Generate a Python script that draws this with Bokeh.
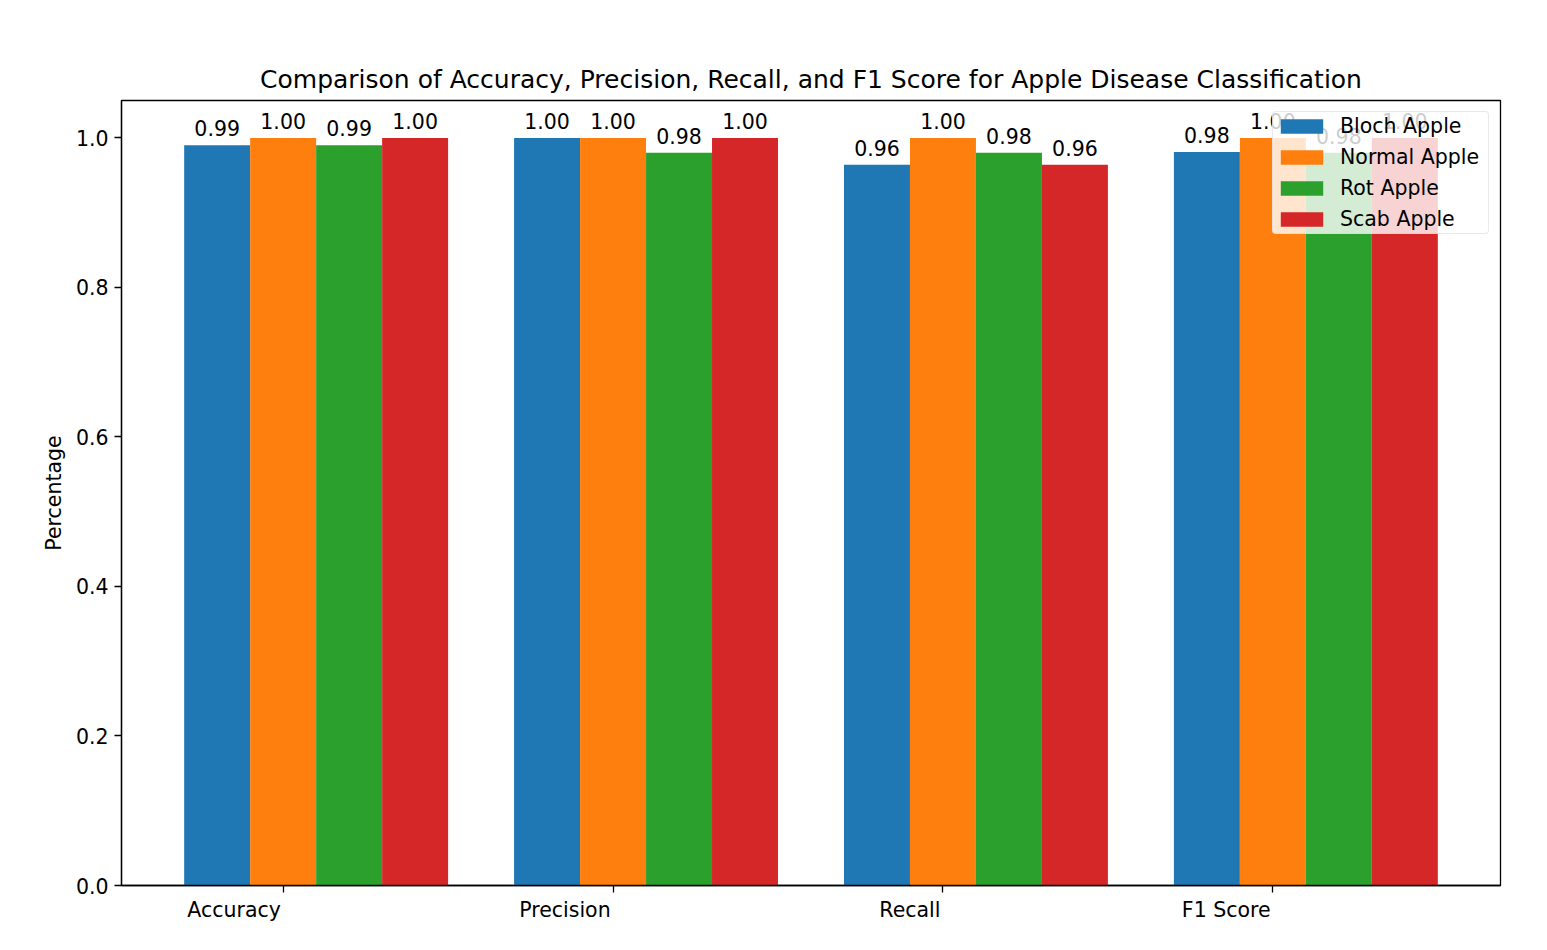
from bokeh.plotting import figure
from bokeh.models import (ColumnDataSource, Range1d, FixedTicker, Legend, LegendItem,
                          LinearAxis)
from bokeh.core.properties import value
from bokeh.embed import file_html
from bokeh.resources import INLINE

# ---- data ----
metrics = ["Accuracy", "Precision", "Recall", "F1 Score"]
classes = ["Bloch Apple", "Normal Apple", "Rot Apple", "Scab Apple"]
bloch = [0.99, 1.00, 0.964, 0.981]
normal = [1.00, 1.00, 1.00, 1.00]
rot = [0.99, 0.98, 0.98, 0.98]
scab = [1.00, 1.00, 0.964, 1.00]
colors = ["#1f77b4", "#ff7f0e", "#2ca02c", "#d62728"]
y_ticks = [0.0, 0.2, 0.4, 0.6, 0.8, 1.0]
y_tick_labels = ["0.0", "0.2", "0.4", "0.6", "0.8", "1.0"]
title_text = "Comparison of Accuracy, Precision, Recall, and F1 Score for Apple Disease Classification"
y_label = "Percentage"

series = [bloch, normal, rot, scab]
bar_w = 0.2
FONT = "DejaVu Sans"
FS = "20.5px"
FS_PX = 20.5

X0, X1 = -0.29, 3.89
W, H = 1540, 930
ML, MR, MT, MB = 121, 40, 100, 45

p = figure(width=W, height=H, output_backend="svg", toolbar_location=None,
           x_range=Range1d(X0, X1), y_range=Range1d(0, 1.05),
           min_border_left=ML, min_border_right=MR, min_border_top=MT, min_border_bottom=MB)
p.background_fill_color = "white"
p.border_fill_color = "white"
p.grid.visible = False
p.outline_line_color = "black"
p.outline_line_width = 1.3

p.title.text = title_text
p.title.align = "center"
p.title.text_font = FONT
p.title.text_font_style = "normal"
p.title.text_font_size = "25px"
p.title.text_color = "black"
p.title.standoff = 13

# y axis
p.yaxis.ticker = FixedTicker(ticks=y_ticks)
p.yaxis.major_label_overrides = {t: l for t, l in zip(y_ticks, y_tick_labels)}
p.yaxis.minor_tick_line_color = None
p.yaxis.major_tick_in = 0
p.yaxis.major_tick_out = 7
p.yaxis.major_tick_line_width = 1.3
p.yaxis.axis_line_width = 1.3
p.yaxis.major_label_standoff = 6
p.yaxis.major_label_text_font = FONT
p.yaxis.major_label_text_font_size = FS
p.yaxis.major_label_text_color = "black"
p.yaxis.axis_label = y_label
p.yaxis.axis_label_text_font = FONT
p.yaxis.axis_label_text_font_size = FS
p.yaxis.axis_label_text_font_style = "normal"
p.yaxis.axis_label_text_color = "black"
p.yaxis.axis_label_standoff = 7

# x axis: tick marks at group positions (labels hidden)
x_tick_pos = [i + bar_w for i in range(len(metrics))]
p.xaxis.ticker = FixedTicker(ticks=x_tick_pos)
p.xaxis.major_label_overrides = {t: "" for t in x_tick_pos}
p.xaxis.major_label_text_font_size = "0px"
p.xaxis.major_label_standoff = 0
p.xaxis.minor_tick_line_color = None
p.xaxis.major_tick_in = 0
p.xaxis.major_tick_out = 7
p.xaxis.major_tick_line_width = 1.3
p.xaxis.axis_line_width = 1.3

# second axis carrying the category labels, right-aligned to the tick marks
em_widths = {"Accuracy": 4.584, "Precision": 4.502, "Recall": 3.029, "F1 Score": 4.352}
units_per_px = (X1 - X0) / (W - ML - MR)
label_centers = [pos - (em_widths[m] * FS_PX / 2 + 2) * units_per_px
                 for pos, m in zip(x_tick_pos, metrics)]
lab_axis = LinearAxis(ticker=FixedTicker(ticks=label_centers),
                      major_label_overrides={c: m for c, m in zip(label_centers, metrics)})
lab_axis.axis_line_color = None
lab_axis.major_tick_line_color = None
lab_axis.minor_tick_line_color = None
lab_axis.major_tick_in = 0
lab_axis.major_tick_out = 0
lab_axis.major_label_standoff = 5
lab_axis.major_label_text_font = FONT
lab_axis.major_label_text_font_size = FS
lab_axis.major_label_text_color = "black"
p.add_layout(lab_axis, "below")

renderers = []
for j, (vals, col) in enumerate(zip(series, colors)):
    xs = [i + j * bar_w for i in range(len(metrics))]
    src = ColumnDataSource(dict(x=xs, top=vals))
    r = p.vbar(x="x", top="top", width=bar_w, bottom=0, source=src,
               fill_color=col, line_color=None)
    renderers.append(r)
for j, vals in enumerate(series):
    xs = [i + j * bar_w for i in range(len(metrics))]
    src = ColumnDataSource(dict(x=xs, top=vals, lbl=["%.2f" % v for v in vals]))
    p.text(x="x", y="top", text="lbl", source=src, text_align="center",
           text_baseline="alphabetic", y_offset=-17, text_font=value(FONT),
           text_font_size=FS, text_color="black")

legend = Legend(items=[LegendItem(label=c, renderers=[r]) for c, r in zip(classes, renderers)],
                location="top_right")
legend.margin = 11
legend.padding = 2
legend.spacing = 7
legend.glyph_width = 53
legend.glyph_height = 18
legend.label_height = 18
legend.label_width = 146
legend.label_standoff = 12
legend.label_text_font = FONT
legend.label_text_font_size = FS
legend.label_text_color = "black"
legend.background_fill_color = "white"
legend.background_fill_alpha = 0.8
legend.border_line_color = "#d4d4d4"
legend.border_line_width = 1.2
if "border_radius" in legend.properties():
    legend.border_radius = 4
p.add_layout(legend, "center")

open("out.html", "w").write(file_html(p, INLINE))
